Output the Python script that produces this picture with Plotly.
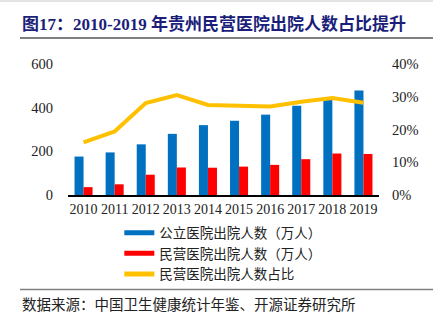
import plotly.graph_objects as go

years = ["2010", "2011", "2012", "2013", "2014", "2015", "2016", "2017", "2018", "2019"]
public_discharges = [176, 195, 232, 280, 320, 340, 368, 409, 449, 479]
private_discharges = [36, 49, 93, 126, 125, 130, 138, 164, 190, 188]
private_share = [0.161, 0.194, 0.281, 0.305, 0.275, 0.274, 0.270, 0.285, 0.296, 0.282]

names = ["公立医院出院人数（万人）", "民营医院出院人数（万人）", "民营医院出院人数占比"]
colors = ["#0070C0", "#FF0000", "#FFC000"]

title_text = "图17：2010-2019 年贵州民营医院出院人数占比提升"
source_text = "数据来源：中国卫生健康统计年鉴、开源证券研究所"

SERIF = "Liberation Serif, Times New Roman, Noto Sans CJK SC"
CJK = "Noto Sans CJK SC"

fig = go.Figure()
fig.add_trace(go.Bar(x=years, y=public_discharges, marker_color=colors[0],
                     marker_line_width=0, showlegend=False, yaxis="y"))
fig.add_trace(go.Bar(x=years, y=private_discharges, marker_color=colors[1],
                     marker_line_width=0, showlegend=False, yaxis="y"))
fig.add_trace(go.Scatter(x=years, y=private_share, mode="lines",
                         line=dict(color=colors[2], width=4), showlegend=False, yaxis="y2"))
# legend entries drawn as thick lines
for n, c in zip(names, colors):
    fig.add_trace(go.Scatter(x=[None], y=[None], mode="lines", name=n,
                             line=dict(color=c, width=5), yaxis="y"))

fig.update_layout(
    width=433, height=325,
    margin=dict(l=68, r=54, t=64, b=130, autoexpand=False),
    paper_bgcolor="white", plot_bgcolor="white",
    barmode="group", bargap=0.42, bargroupgap=0,
    font=dict(family=SERIF, size=14, color="#222222"),
    xaxis=dict(type="category", showgrid=False, showline=True, linecolor="#000000",
               linewidth=1.5, ticks="", tickangle=0, automargin=False,
               tickfont=dict(size=14, family=SERIF)),
    yaxis=dict(range=[0, 600], dtick=200, showgrid=False, zeroline=False,
               showline=False, ticks="", ticklabelstandoff=14, automargin=False,
               tickfont=dict(size=14.5, family=SERIF)),
    yaxis2=dict(range=[0, 0.4], dtick=0.1, tickformat=".0%", overlaying="y",
                side="right", showgrid=False, zeroline=False, showline=False,
                ticks="", ticklabelstandoff=12, automargin=False,
                tickfont=dict(size=14.5, family=SERIF)),
    legend=dict(x=0.165, xanchor="left", y=-0.172, yanchor="top",
                orientation="v", font=dict(size=13.5, family=CJK, color="#222222"),
                tracegroupgap=0, bgcolor="rgba(0,0,0,0)"),
    showlegend=True,
)

fig.add_annotation(text="<b>" + title_text + "</b>", xref="paper", yref="paper",
                   x=-48/311, y=1 + (64-24)/131, xanchor="left", yanchor="middle",
                   showarrow=False, font=dict(size=17, family=SERIF, color="#1B1F7A"))
fig.add_annotation(text=source_text, xref="paper", yref="paper",
                   x=-48/311, y=-(304-195.5)/131, xanchor="left", yanchor="middle",
                   showarrow=False, font=dict(size=14.5, family=CJK, color="#222222"))

fig.add_shape(type="line", xref="paper", yref="paper",
              x0=-48/311, x1=1 + 54/311, y0=1 + (64-38)/131, y1=1 + (64-38)/131,
              line=dict(color="#808080", width=2))
fig.add_shape(type="line", xref="paper", yref="paper",
              x0=-48/311, x1=1 + 54/311, y0=-(290-195.5)/131, y1=-(290-195.5)/131,
              line=dict(color="#808080", width=1.5))
fig.add_shape(type="line", xref="paper", yref="paper",
              x0=-68/311, x1=1 + 54/311, y0=1 + 63/131, y1=1 + 63/131,
              line=dict(color="#C8C8C8", width=1))

fig.write_html("out.html")
